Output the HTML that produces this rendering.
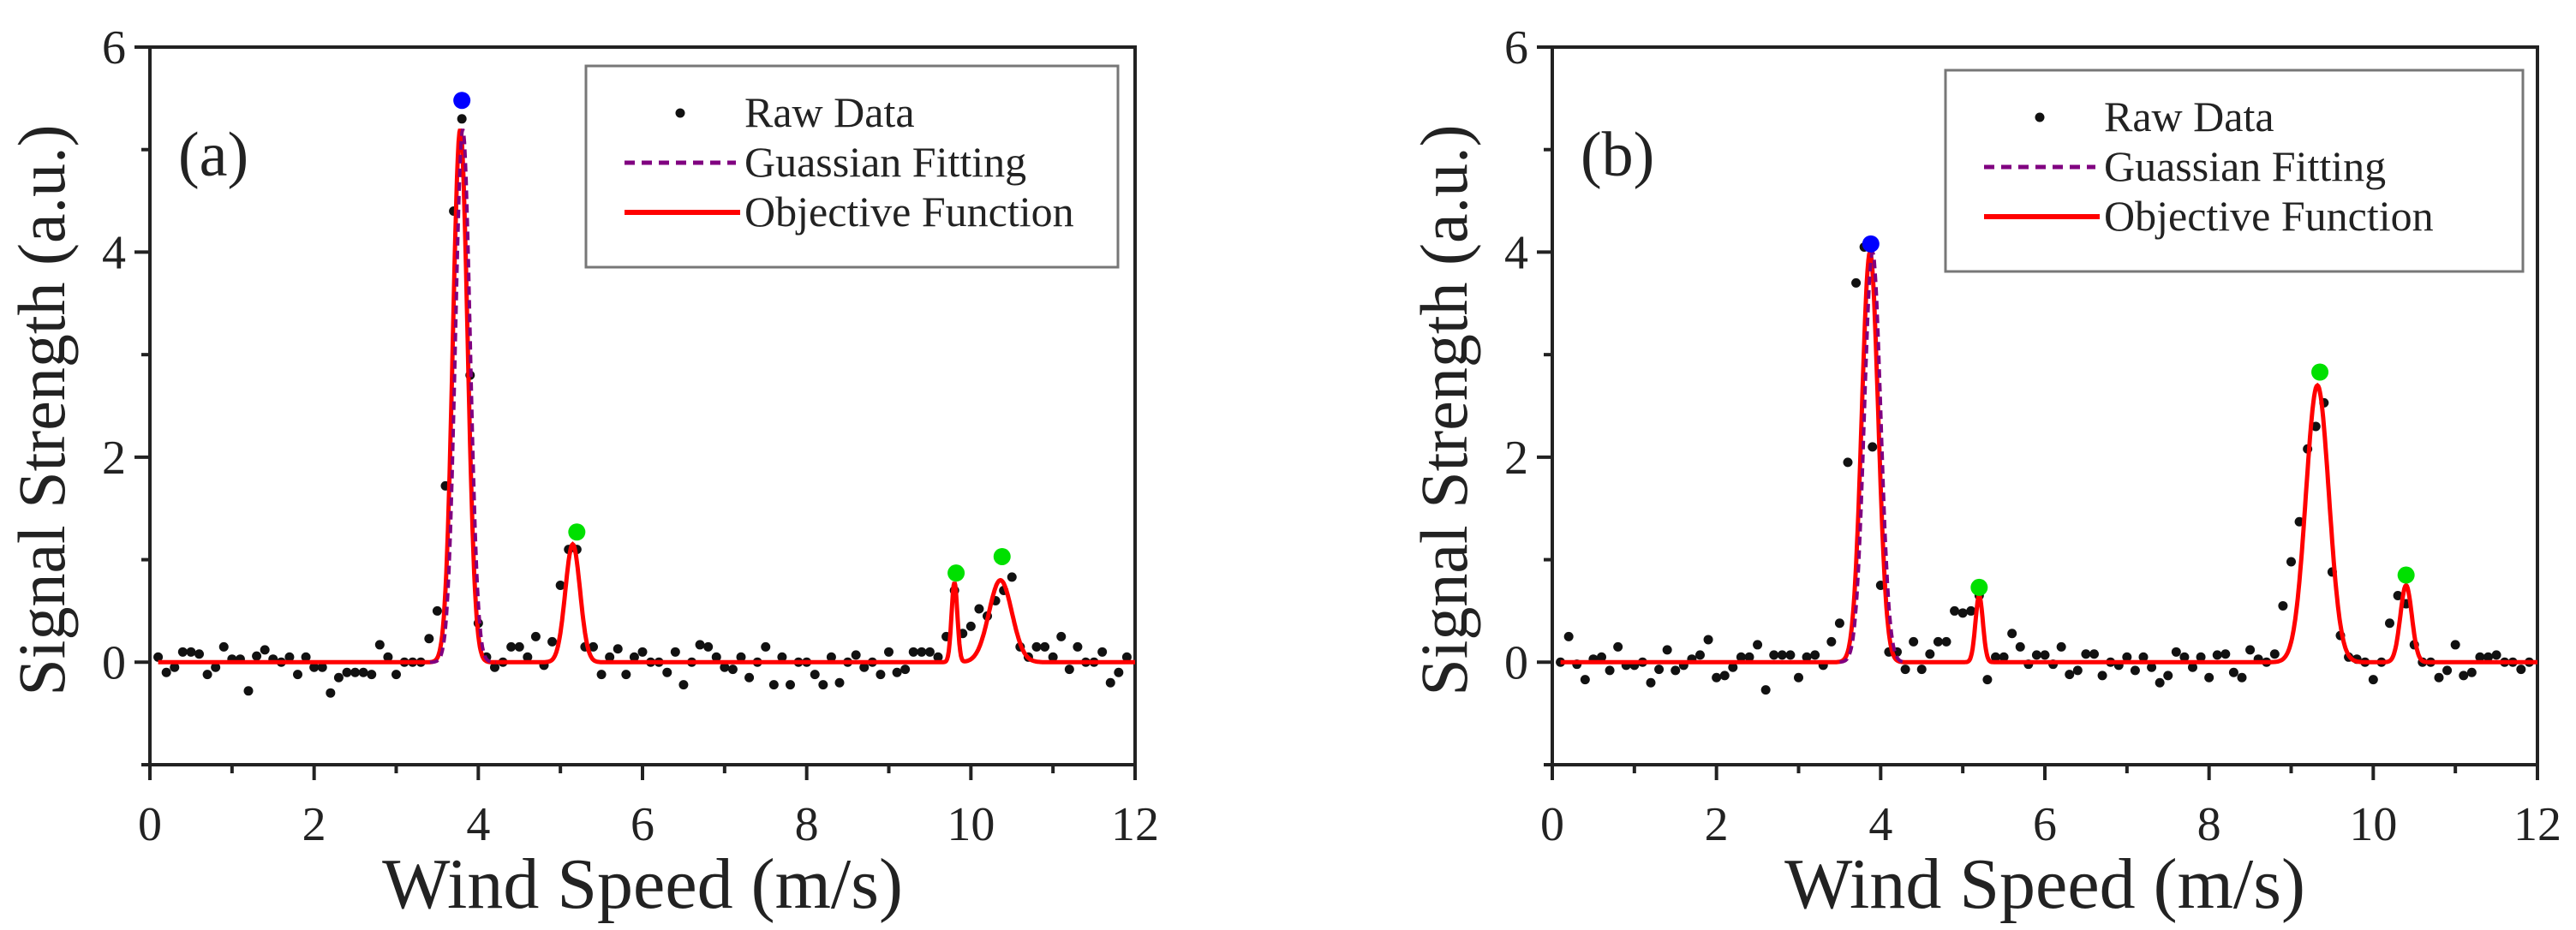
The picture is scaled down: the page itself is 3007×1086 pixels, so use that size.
<!DOCTYPE html>
<html><head><meta charset="utf-8"><style>
html,body{margin:0;padding:0;background:#fff;}
svg{display:block;font-family:"Liberation Serif",serif;}
</style></head><body>
<svg id="chart" width="3007" height="1086" viewBox="0 0 3007 1086" xmlns="http://www.w3.org/2000/svg"></svg>
<script>
const xTicks=[0,2,4,6,8,10,12];
const yTicks=[0,2,4,6];
const rawX=[];for(let i=1;i<=119;i++)rawX.push(+(i*0.1).toFixed(1));
const rawA=[0.05,-0.1,-0.05,0.1,0.1,0.08,-0.12,-0.05,0.15,0.03,0.03,-0.28,0.06,0.12,0.03,0,0.05,-0.12,0.05,-0.05,-0.05,-0.3,-0.15,-0.1,-0.1,-0.1,-0.12,0.17,0.05,-0.12,0,0,0,0.23,0.5,1.72,4.4,5.3,2.8,0.38,0.05,-0.05,0,0.15,0.15,0.05,0.25,-0.03,0.2,0.75,1.1,1.1,0.15,0.15,-0.12,0.05,0.13,-0.12,0.05,0.1,0,0,-0.1,0.1,-0.22,0,0.17,0.15,0.05,-0.05,-0.07,0.05,-0.15,0,0.15,-0.22,0.05,-0.22,0,0,-0.12,-0.22,0.05,-0.2,0,0.07,-0.05,0,-0.12,0.1,-0.1,-0.07,0.1,0.1,0.1,0.05,0.25,0.7,0.28,0.35,0.52,0.45,0.6,0.7,0.83,0.15,0.05,0.15,0.15,0.05,0.25,-0.07,0.15,0,0,0.1,-0.2,-0.1,0.05];
const rawB=[0,0.25,-0.02,-0.17,0.03,0.05,-0.08,0.15,-0.03,-0.03,0,-0.2,-0.07,0.12,-0.08,-0.03,0.03,0.07,0.22,-0.15,-0.13,-0.05,0.05,0.05,0.17,-0.27,0.07,0.07,0.07,-0.15,0.05,0.07,-0.03,0.2,0.38,1.95,3.7,4.05,2.1,0.75,0.1,0.1,-0.07,0.2,-0.07,0.08,0.2,0.2,0.5,0.48,0.5,0.65,-0.17,0.05,0.05,0.28,0.15,-0.02,0.07,0.07,-0.02,0.15,-0.12,-0.08,0.08,0.08,-0.13,0,-0.03,0.05,-0.08,0.05,-0.05,-0.2,-0.13,0.1,0.05,-0.05,0.05,-0.15,0.07,0.08,-0.1,-0.15,0.12,0.03,0,0.08,0.55,0.98,1.37,2.08,2.3,2.53,0.88,0.26,0.05,0.03,0,-0.17,0,0.38,0.65,0.57,0.17,0,0,-0.15,-0.08,0.17,-0.13,-0.1,0.05,0.05,0.07,0,0,-0.07,0];
const peakCenterA=[3.78,5.15,9.8,10.36];
const peakAmpA=[5.2,1.15,0.78,0.8];
const peakSigmaA=[0.09,0.09,0.035,0.14];
const peakCenterB=[3.87,5.2,9.32,10.4];
const peakAmpB=[4.0,0.65,2.7,0.75];
const peakSigmaB=[0.1,0.045,0.14,0.07];
const mainMarkA=[3.8,5.48];const sideMarkXA=[5.2,9.82,10.38];const sideMarkYA=[1.27,0.87,1.03];
const mainMarkB=[3.88,4.08];const sideMarkXB=[5.2,9.35,10.4];const sideMarkYB=[0.73,2.83,0.85];

const NS="http://www.w3.org/2000/svg";
const svg=document.getElementById('chart');
function mk(tag,attrs,parent){const e=document.createElementNS(NS,tag);for(const k in attrs)e.setAttribute(k,attrs[k]);(parent||svg).appendChild(e);return e;}

function panel(cfg){
  const L=cfg.left,R=cfg.left+1150,T=55,B=893;
  const sx=v=>L+(v-0)/12*(R-L);
  const sy=v=>T+(6-v)/7*(B-T);
  const g=mk('g',{});
  
  
  const fr=mk('rect',{x:L,y:T,width:R-L,height:B-T,fill:'none',stroke:'#222','stroke-width':4},g);
  
  for(let v=0;v<=12;v++){const t=mk('line',{x1:sx(v),x2:sx(v),y1:B,y2:B+(v%2===0?18:10),stroke:'#222','stroke-width':4},g);
    }
  xTicks.forEach(v=>{const t=mk('text',{x:sx(v),y:B+88,'font-size':56,'text-anchor':'middle',fill:'#222'},g);t.textContent=v;
    });
  for(let v=-1;v<=6;v++){const t=mk('line',{x1:L-(v%2===0?18:10),x2:L,y1:sy(v),y2:sy(v),stroke:'#222','stroke-width':4},g);
    }
  yTicks.forEach(v=>{const t=mk('text',{x:L-28,y:sy(v)+19,'font-size':56,'text-anchor':'end',fill:'#222'},g);t.textContent=v;
    });
  const xt=mk('text',{x:(L+R)/2,y:1060,'font-size':84,'text-anchor':'middle',fill:'#222'},g);xt.textContent='Wind Speed (m/s)';
  
  const yx=L-100, yy=(T+B)/2+5;
  const yt=mk('text',{x:yx,y:yy,'font-size':78,'text-anchor':'middle',fill:'#222',transform:`rotate(-90 ${yx} ${yy})`},g);yt.textContent='Signal Strength (a.u.)';
  
  const pl=mk('text',{x:L+33,y:205,'font-size':74,fill:'#222'},g);pl.textContent=cfg.label;
  
  cfg.raw.forEach((v,i)=>{const c=mk('circle',{cx:sx(rawX[i]),cy:sy(v),r:5.5,fill:'#111'},g);
    });
  const f=x=>{let s=0;for(let k=0;k<cfg.pc.length;k++)s+=cfg.pa[k]*Math.exp(-((x-cfg.pc[k])**2)/(2*cfg.ps[k]**2));return s;};
  let d='';for(let x=0.1;x<=12.0001;x+=0.01)d+=(d?'L':'M')+sx(x).toFixed(1)+','+sy(f(x)).toFixed(1);
  const red=mk('path',{d:d,fill:'none',stroke:'#ff0000','stroke-width':5},g);
  
  let d2='';for(let x=cfg.pc[0]-0.4;x<=cfg.pc[0]+0.4;x+=0.01){const y=cfg.pa[0]*Math.exp(-((x-cfg.pc[0])**2)/(2*cfg.ps[0]**2));d2+=(d2?'L':'M')+(sx(x)+3).toFixed(1)+','+sy(y).toFixed(1);}
  const pu=mk('path',{d:d2,fill:'none',stroke:'#800080','stroke-width':4,'stroke-dasharray':'10 6'},g);
  
  const bm=mk('circle',{cx:sx(cfg.mm[0]),cy:sy(cfg.mm[1]),r:10,fill:'#0000ff'},g);
  
  cfg.smx.forEach((x,i)=>{const c=mk('circle',{cx:sx(x),cy:sy(cfg.smy[i]),r:10,fill:'#00e000'},g);
    });
  const lg=mk('g',{},g);
  const lx=cfg.lx,ly=cfg.ly,lw=cfg.lw;
  mk('rect',{x:lx,y:ly,width:lw,height:235,fill:'#fff',stroke:'#777','stroke-width':3},lg);
  const rows=[['Raw Data',0],['Guassian Fitting',1],['Objective Function',2]];
  rows.forEach(([t,k])=>{const yy=ly+55+k*58;const e=mk('g',{},lg);
    
    if(k===0)mk('circle',{cx:lx+110,cy:yy,r:5.5,fill:'#111'},e);
    if(k===1)mk('line',{x1:lx+45,x2:lx+175,y1:yy,y2:yy,stroke:'#800080','stroke-width':5,'stroke-dasharray':'12 8'},e);
    if(k===2)mk('line',{x1:lx+45,x2:lx+180,y1:yy,y2:yy,stroke:'#ff0000','stroke-width':6},e);
    const tx=mk('text',{x:lx+185,y:yy+16,'font-size':50,fill:'#222'},e);tx.textContent=t;});
}
panel({name:'panel-a',left:175,label:'(a)',raw:rawA,pc:peakCenterA,pa:peakAmpA,ps:peakSigmaA,mm:mainMarkA,smx:sideMarkXA,smy:sideMarkYA,lx:684,ly:77,lw:621});
panel({name:'panel-b',left:1812,label:'(b)',raw:rawB,pc:peakCenterB,pa:peakAmpB,ps:peakSigmaB,mm:mainMarkB,smx:sideMarkXB,smy:sideMarkYB,lx:2271,ly:82,lw:674});
</script>
</body></html>
